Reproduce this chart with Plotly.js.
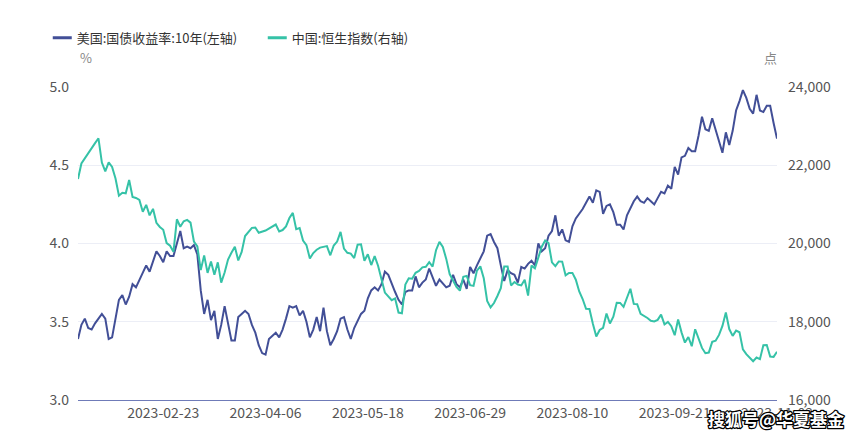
<!DOCTYPE html>
<html>
<head>
<meta charset="utf-8">
<script src="https://cdn.plot.ly/plotly-3.0.1.min.js"></script>
<style>
html,body{margin:0;padding:0;background:#fff;}
#chart{width:865px;height:436px;}
</style>
</head>
<body>
<div id="chart"></div>
<script>
// Trading-day categories: every weekday from 2023-01-19 to 2023-11-02
const startDate = "2023-01-19";
const endDate = "2023-11-02";
const tickDates = ["2023-02-23","2023-04-06","2023-05-18","2023-06-29","2023-08-10","2023-09-21","2023-11-02"];

// 美国:国债收益率:10年 (%), one value per weekday, null = no quote
const usYield = [
  3.39, 3.48,
  3.52, 3.46, 3.45, 3.49, 3.52,
  3.55, 3.52, 3.39, 3.40, 3.53,
  3.64, 3.67, 3.61, 3.66, 3.74,
  3.72, 3.77, 3.81, 3.86, 3.82,
  null, 3.95, 3.92, 3.88, 3.95,
  3.92, 3.92, 4.01, 4.08, 3.97,
  3.98, 3.97, 3.99, 3.93, 3.70,
  3.55, 3.64, 3.51, 3.57, 3.39,
  3.48, 3.60, 3.48, 3.38, 3.38,
  3.53, 3.55, 3.57, 3.55, 3.48,
  3.43, 3.35, 3.30, 3.29, 3.39,
  3.41, 3.43, 3.40, 3.45, 3.52,
  3.60, 3.59, 3.60, 3.54, 3.57,
  3.50, 3.40, 3.45, 3.53, 3.44,
  3.59, 3.44, 3.35, 3.39, 3.44,
  3.52, 3.53, 3.45, 3.39, 3.46,
  3.51, 3.55, 3.57, 3.65, 3.70,
  3.72, 3.70, 3.74, 3.82, 3.80,
  null, 3.69, 3.64, 3.61, 3.69,
  3.70, 3.70, 3.79, 3.72, 3.75,
  3.77, 3.84, 3.79, 3.73, 3.77,
  null, 3.72, 3.73, 3.80, 3.74,
  3.72, 3.77, 3.71, 3.85, 3.81,
  3.86, null, 3.95, 4.05, 4.06,
  4.01, 3.97, 3.86, 3.76, 3.83,
  3.81, 3.80, 3.75, 3.85, 3.84,
  3.87, 3.89, 3.86, 4.00, 3.95,
  3.97, 4.05, 4.08, 4.18, 4.05,
  4.09, 4.02, 4.01, 4.11, 4.16,
  4.19, 4.22, 4.26, 4.30, 4.26,
  4.34, 4.33, 4.19, 4.24, 4.25,
  4.20, 4.12, 4.12, 4.09, 4.18,
  null, 4.27, 4.30, 4.27, 4.26,
  4.29, 4.27, 4.25, 4.29, 4.33,
  4.32, 4.37, 4.35, 4.49, 4.44,
  4.55, 4.56, 4.61, 4.59, 4.59,
  4.69, 4.81, 4.73, 4.72, 4.80,
  null, 4.66, 4.58, 4.71, 4.63,
  4.72, 4.85, 4.91, 4.98, 4.93,
  4.86, 4.83, 4.95, 4.85, 4.84,
  4.88, 4.88, 4.77, 4.67
];

// 中国:恒生指数 (点), one value per weekday, null = market closed
const hsi = [
  21650, 22045,
  null, null, null, 22566, 22689,
  22069, 21842, 22072, 21958, 21660,
  21222, 21298, 21283, 21624, 21190,
  21164, 21113, 20812, 20987, 20719,
  20886, 20529, 20423, 20351, 20010,
  19943, 19786, 20619, 20429, 20567,
  20603, 20534, 20051, 19926, 19320,
  19696, 19248, 19539, 19203, 19518,
  19000, 19259, 19591, 19762, 19916,
  19567, 19784, 20192, 20310, 20400,
  20409, 20275, null, 20332, null,
  null, 20485, 20309, 20344, 20438,
  20650, 20782, 20367, 20396, 20075,
  19959, 19617, 19757, 19841, 19895,
  null, 19933, 19699, 19948, 20049,
  20297, 19868, 19762, 19743, 19627,
  19971, 19978, 19560, 19727, 19450,
  19679, 19431, 19116, 18746, null,
  18551, 18595, 18234, 18216, 18950,
  19109, 19099, 19252, 19299, 19390,
  19404, 19521, 19408, 19828, 20041,
  19912, 19607, 19219, null, 18889,
  18794, 19148, 19172, 18934, 18916,
  19306, 19415, 19110, 18533, 18365,
  18479, 18659, 18860, 19414, 19413,
  18928, 19015, 18952, 18928, 19075,
  18668, 19434, 19365, 19639, 19917,
  20079, 20012, 19517, 19421, 19540,
  19537, 19184, 19246, 19248, 19075,
  18773, 18581, 18329, 18326, 17950,
  17623, 17791, 17846, 18212, 17956,
  18130, 18484, 18482, 18382, null,
  18844, 18456, 18450, 18202, null,
  18096, 18025, 18009, 18047, 18182,
  17931, 17997, 17885, 17655, 18057,
  17729, 17467, 17611, 17373, 17809,
  null, 17331, 17196, 17213, 17486,
  17517, 17664, 17893, 18238, 17813,
  17640, 17773, 17732, 17295, 17172,
  null, 16991, 17085, 17044, 17399,
  17406, 17112, 17102, 17231
];

const seriesNames = ["美国:国债收益率:10年(左轴)", "中国:恒生指数(右轴)"];
const leftUnit = "%";
const rightUnit = "点";
const watermark = "搜狐号@华夏基金";

// build weekday category list
function weekdays(a, b) {
  const out = [];
  const d = new Date(a + "T00:00:00Z");
  const e = new Date(b + "T00:00:00Z");
  while (d <= e) {
    const w = d.getUTCDay();
    if (w !== 0 && w !== 6) out.push(d.toISOString().slice(0, 10));
    d.setUTCDate(d.getUTCDate() + 1);
  }
  return out;
}
const dates = weekdays(startDate, endDate);

const FONT = '"Noto Sans CJK SC", "Noto Sans", sans-serif';
const BLUE = '#424f97';
const TEAL = '#35c2a7';

const traces = [
  {x: dates, y: usYield, name: seriesNames[0], type: 'scatter', mode: 'lines',
   connectgaps: true, line: {color: BLUE, width: 2}, yaxis: 'y'},
  {x: dates, y: hsi, name: seriesNames[1], type: 'scatter', mode: 'lines',
   connectgaps: true, line: {color: TEAL, width: 2}, yaxis: 'y2'}
];

const layout = {
  width: 865, height: 436,
  margin: {l: 78, r: 88, t: 87, b: 36, pad: 0},
  paper_bgcolor: '#fff', plot_bgcolor: '#fff',
  font: {family: FONT, size: 13, color: '#4a4a4a'},
  showlegend: true,
  legend: {orientation: 'h', x: -0.059, y: 1.157, xanchor: 'left', yanchor: 'middle',
           font: {family: FONT, size: 13, color: '#333'}, entrywidth: 170, entrywidthmode: 'pixels',
           bgcolor: 'rgba(0,0,0,0)', borderwidth: 0},
  xaxis: {type: 'category', range: [0, dates.length - 1], showgrid: false, zeroline: false,
          showline: true, linecolor: '#6f7bb8', linewidth: 1, ticks: '',
          tickmode: 'array', tickvals: tickDates, ticktext: tickDates,
          tickfont: {family: FONT, size: 14, color: '#555'}, automargin: false},
  yaxis: {range: [3, 5], dtick: 0.5, tick0: 3, tickformat: '.1f', showgrid: true,
          gridcolor: '#eceef6', gridwidth: 1, zeroline: false, showline: false, ticks: '',
          ticklabelstandoff: 8, tickfont: {family: FONT, size: 14, color: '#555'}, automargin: false},
  yaxis2: {overlaying: 'y', side: 'right', range: [16000, 24000], dtick: 2000, tick0: 16000,
           tickformat: ',d', showgrid: false, zeroline: false, showline: false, ticks: '',
           ticklabelstandoff: 10, tickfont: {family: FONT, size: 14, color: '#555'}, automargin: false},
  annotations: [
    {xref: 'paper', yref: 'paper', x: 0, y: 1.093, xanchor: 'left', yanchor: 'middle',
     showarrow: false, text: leftUnit, font: {family: FONT, size: 13, color: '#888'}},
    {xref: 'paper', yref: 'paper', x: 0.991, y: 1.093, xanchor: 'center', yanchor: 'middle',
     showarrow: false, text: rightUnit, font: {family: FONT, size: 13, color: '#888'}},
    {xref: 'paper', yref: 'paper', x: 0.9986, y: -0.0585, xanchor: 'center', yanchor: 'middle',
     showarrow: false, text: '<b>' + watermark + '</b>', font: {family: FONT, size: 17, color: '#fff'}}
  ]
};

Plotly.newPlot('chart', traces, layout, {displayModeBar: false, staticPlot: true}).then(gd => {
  // shorter, bolder legend line symbols like the reference
  gd.querySelectorAll('.legend .legendlines path').forEach(p => {
    p.setAttribute('d', 'M16,0h19');
    p.style.strokeWidth = '3px';
  });
  // outlined watermark text (white fill, black outline)
  const ann = gd.querySelectorAll('.annotation-text');
  const wm = ann[ann.length - 1];
  if (wm) {
    wm.style.paintOrder = 'stroke';
    wm.style.stroke = '#000';
    wm.style.strokeWidth = '2.5px';
    wm.style.strokeLinejoin = 'round';
  }
});
</script>
</body>
</html>
